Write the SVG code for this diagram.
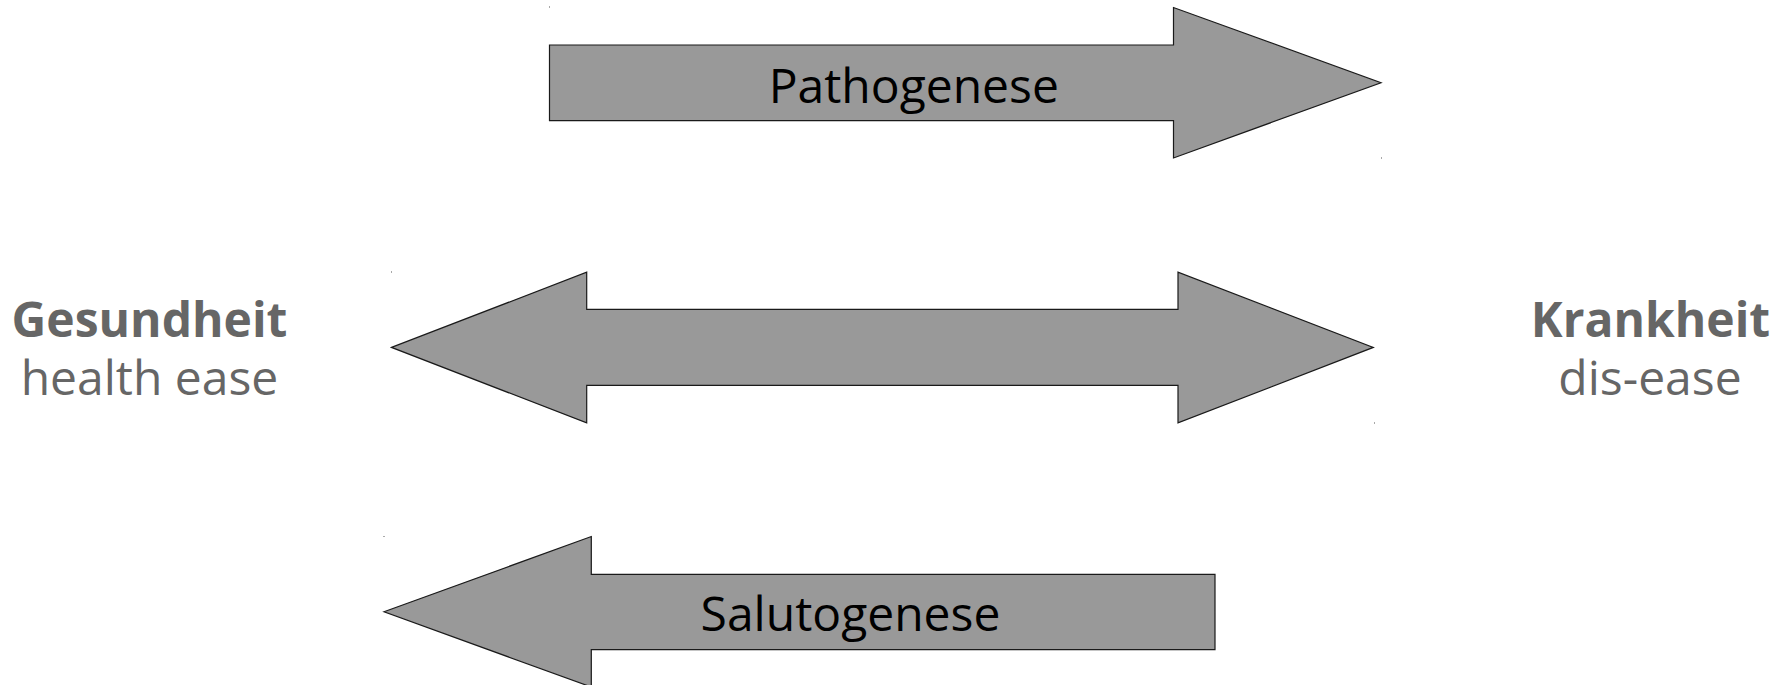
<svg xmlns="http://www.w3.org/2000/svg" width="1787" height="685" viewBox="0 0 1787 685">
  <style>
    .arrow { fill: #999999; stroke: #1a1a1a; stroke-width: 1.2; stroke-linejoin: miter; }
    .lbl { font-family: "Open Sans", "Noto Sans", sans-serif; font-size: 48px; fill: #000000; text-anchor: middle; }
    .title { font-family: "Open Sans", "Noto Sans", sans-serif; font-size: 48px; font-weight: bold; fill: #666666; text-anchor: middle; }
    .sub { font-family: "Open Sans", "Noto Sans", sans-serif; font-size: 48px; fill: #666666; text-anchor: middle; }
    .dot { fill: #555555; }
  </style>
  <rect x="0" y="0" width="1787" height="685" fill="#ffffff"/>
  <g id="gesundheit">
    <text class="title" x="149.5" y="337">Gesundheit</text>
    <text class="sub" x="149.5" y="395">health ease</text>
  </g>
  <g id="krankheit">
    <text class="title" x="1650.5" y="337">Krankheit</text>
    <text class="sub" x="1650" y="395">dis-ease</text>
  </g>
  <g id="connectors">
    <g id="pathogenese">
      <path class="arrow" d="M549.5,45 L1173.5,45 L1173.5,7.5 L1381,82.7 L1173.5,158 L1173.5,120.6 L549.5,120.6 Z"/>
      <text class="lbl" x="913.8" y="102.7">Pathogenese</text>
      <rect class="dot" x="549" y="6.5" width="1" height="1"/>
      <rect class="dot" x="1381" y="157.5" width="1" height="1"/>
    </g>
    <g id="kontinuum">
      <path class="arrow" d="M391.5,347.4 L586.7,272.2 L586.7,309.3 L1178,309.3 L1178,272.2 L1373.3,347.4 L1178,422.9 L1178,385.3 L586.7,385.3 L586.7,422.9 Z"/>
      <rect class="dot" x="391" y="271.5" width="1" height="1"/>
      <rect class="dot" x="1374" y="422.5" width="1" height="1"/>
    </g>
    <g id="salutogenese">
      <path class="arrow" d="M384,611.8 L591.3,536.5 L591.3,574.3 L1215,574.3 L1215,649.6 L591.3,649.6 L591.3,687 Z"/>
      <text class="lbl" x="850.5" y="631">Salutogenese</text>
      <rect class="dot" x="383.5" y="536" width="1" height="1"/>
    </g>
  </g>
</svg>
